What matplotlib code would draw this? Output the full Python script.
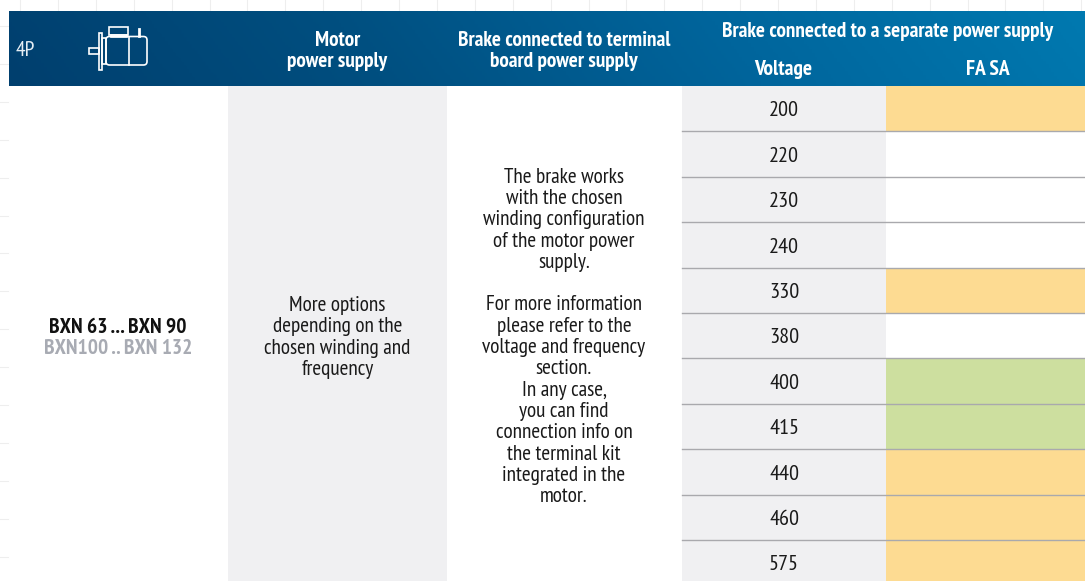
import numpy as np
import matplotlib
matplotlib.use("Agg")
import matplotlib.pyplot as plt
from matplotlib.colors import LinearSegmentedColormap
from matplotlib.patches import Rectangle, FancyBboxPatch
from matplotlib import font_manager as fm

names = {f.name for f in fm.fontManager.ttflist}
FONT = next((n for n in ['PT Sans Narrow', 'Roboto Condensed', 'Liberation Sans Narrow', 'Roboto'] if n in names), 'DejaVu Sans')

W, H = 1085, 581
voltages = ['200', '220', '230', '240', '330', '380', '400', '415', '440', '460', '575']
fa_sa_state = ['y', 'w', 'w', 'w', 'y', 'w', 'g', 'g', 'y', 'y', 'y']
state_colors = {'y': '#fddb92', 'w': '#ffffff', 'g': '#cddf9f'}
brake_text = ["The brake works", "with the chosen", "winding configuration", "of the motor power", "supply.", "",
              "For more information", "please refer to the", "voltage and frequency", "section.", "In any case,",
              "you can find", "connection info on", "the terminal kit", "integrated in the", "motor."]
motor_text = ["More options", "depending on the", "chosen winding and", "frequency"]

fig = plt.figure(figsize=(W / 100, H / 100), dpi=100)
ax = fig.add_axes([0, 0, 1, 1])
ax.set_xlim(0, W)
ax.set_ylim(H, 0)
ax.axis('off')

# faint page grid stubs
for i in range(29):
    ax.plot([20 + 37.9 * i] * 2, [0, 10], color='#eeeeee', lw=0.8, zorder=0)
for i in range(15):
    ax.plot([0, 8], [26 + 37.9 * i] * 2, color='#eeeeee', lw=0.8, zorder=0)

# header gradient
cmap = LinearSegmentedColormap.from_list('h', ['#003f6e', '#004f80', '#00659c', '#0079b0'])
gx, gy = np.meshgrid(np.linspace(0, 1, 400), np.linspace(0, 1, 40))
ax.imshow(gx * 0.95 + (1 - gy) * 0.05, cmap=cmap, extent=[9, W, 86, 11], aspect='auto', zorder=1, vmin=0, vmax=1)
ax.set_xlim(0, W)
ax.set_ylim(H, 0)

# columns
ax.add_patch(Rectangle((228, 86), 219, H - 86, fc='#f0f0f2', ec='none', zorder=1))
ax.add_patch(Rectangle((682, 86), 204, H - 86, fc='#f0f0f2', ec='none', zorder=1))

# rows
y0, rh = 86, 45.4
for i, (v, s) in enumerate(zip(voltages, fa_sa_state)):
    top = y0 + i * rh
    ax.add_patch(Rectangle((886, top), W - 886, rh, fc=state_colors[s], ec='none', zorder=2))
    ax.plot([682, W], [top + rh] * 2, color='#a9a9ad', lw=1.0, zorder=3)
    ax.text(784, top + rh / 2 + 2.2, v, ha='center', va='center', fontsize=16, family=FONT, color='#1a1a1a', zorder=4)

SZ = 15.35

def T(x, y, s, size=SZ, weight='normal', color='#1a1a1a'):
    ax.text(x, y + 1.2, s, ha='center', va='center', fontsize=size, family=FONT, color=color, weight=weight, zorder=5)

# header text
T(25, 49.5, '4P', 15.5, color='#e6eef4')
T(337.5, 39.5, 'Motor', SZ, 'bold', 'white')
T(337.5, 60.5, 'power supply', SZ, 'bold', 'white')
T(564, 39.5, 'Brake connected to terminal', SZ, 'bold', 'white')
T(564, 60.5, 'board power supply', SZ, 'bold', 'white')
T(888, 30.5, 'Brake connected to a separate power supply', SZ, 'bold', 'white')
T(783, 68, 'Voltage', 15.5, 'bold', 'white')
T(988, 68, 'FA SA', 15.5, 'bold', 'white')

# model labels
T(118, 326, 'BXN 63 ... BXN 90', 15.5, 'bold', '#111111')
T(118, 347, 'BXN100 .. BXN 132', 15.4, 'bold', '#a8abb3')

# body text
for i, s in enumerate(motor_text):
    T(337.5, 304 + i * 21.5, s, 15.3)
for i, s in enumerate(brake_text):
    if s:
        T(564, 176 + i * 21.3, s, 15.3)

# motor icon
lc = dict(fc='none', ec='white', lw=1.2, zorder=5)
ax.add_patch(Rectangle((88.5, 47.5), 10, 6, **lc))
ax.add_patch(Rectangle((99, 32.5), 2.5, 37, **lc))
ax.add_patch(Rectangle((101.5, 38), 4, 26, **lc))
ax.add_patch(FancyBboxPatch((106, 36.5), 41, 28.5, boxstyle='round,pad=0,rounding_size=3.5', **lc))
ax.plot([128.5, 128.5], [36.5, 65], color='white', lw=1.2, zorder=5)
ax.add_patch(Rectangle((108.5, 27), 19, 7.5, **lc))
ax.add_patch(Rectangle((111, 34.5), 16, 2, **lc))
ax.plot([138.5, 138.5], [29, 36], color='white', lw=2, zorder=5)

fig.savefig('out.png', dpi=100)
